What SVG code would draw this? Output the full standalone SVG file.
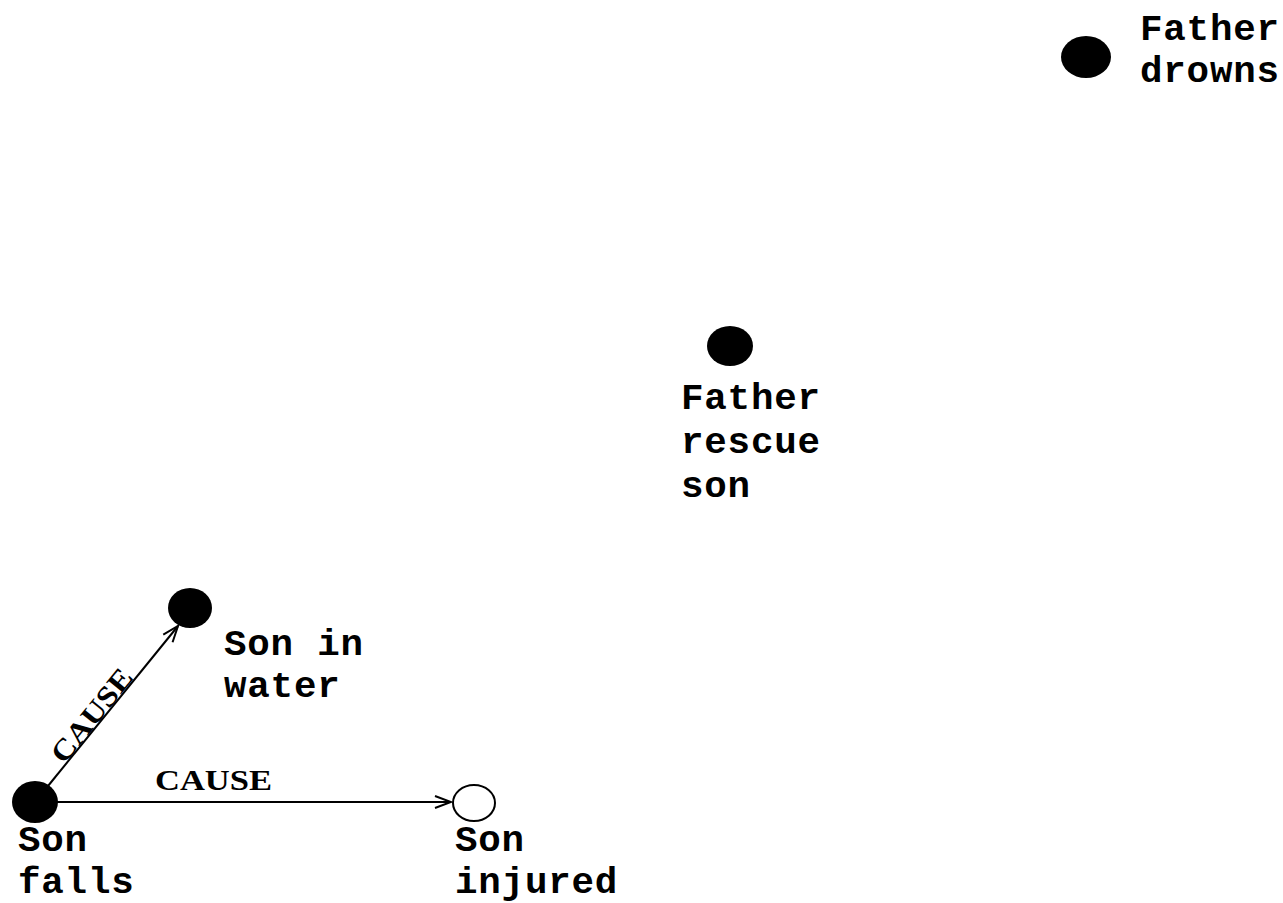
<svg xmlns="http://www.w3.org/2000/svg" width="1283" height="903" viewBox="0 0 1283 903">
<style>
.lbl{font-family:"Liberation Mono","Courier New",monospace;font-size:37.5px;font-weight:bold;letter-spacing:0.8px;fill:#000}
.rel{font-family:"Liberation Serif","Times New Roman",serif;font-size:29px;font-weight:bold;fill:#000}
.dot{fill:#000}
.open{fill:#fff;stroke:#000;stroke-width:2}
.edge{stroke:#000;stroke-width:2;fill:none}
</style>
<defs>
<marker id="arr" markerWidth="20" markerHeight="16" refX="18" refY="8" orient="auto" markerUnits="userSpaceOnUse">
<path d="M2,2 L18,8 L2,14" fill="none" stroke="#000" stroke-width="2"/>
</marker>
</defs>
<rect width="1283" height="903" fill="#fff"/>
<g id="connectors">
<line class="edge" x1="48" y1="786" x2="178" y2="626" marker-end="url(#arr)"/>
<line class="edge" x1="57" y1="802" x2="451" y2="802" marker-end="url(#arr)"/>
<text class="rel" x="155" y="790" textLength="117" lengthAdjust="spacingAndGlyphs">CAUSE</text>
<text class="rel" transform="translate(64,765) rotate(-51)" x="0" y="0" textLength="112" lengthAdjust="spacingAndGlyphs">CAUSE</text>
</g>
<g id="son-falls">
<ellipse class="dot" cx="35" cy="802" rx="23" ry="21"/>
<text class="lbl" x="18" y="851">Son</text>
<text class="lbl" x="18" y="893">falls</text>
</g>
<g id="son-in-water">
<ellipse class="dot" cx="190" cy="608" rx="22" ry="20"/>
<text class="lbl" x="224" y="655">Son in</text>
<text class="lbl" x="224" y="697">water</text>
</g>
<g id="son-injured">
<ellipse class="open" cx="474" cy="803" rx="21" ry="18"/>
<text class="lbl" x="455" y="851">Son</text>
<text class="lbl" x="455" y="893">injured</text>
</g>
<g id="father-rescue-son">
<ellipse class="dot" cx="730" cy="346" rx="23" ry="20"/>
<text class="lbl" x="681" y="409">Father</text>
<text class="lbl" x="681" y="453">rescue</text>
<text class="lbl" x="681" y="497">son</text>
</g>
<g id="father-drowns">
<ellipse class="dot" cx="1086" cy="57" rx="25" ry="21"/>
<text class="lbl" x="1140" y="40">Father</text>
<text class="lbl" x="1140" y="82">drowns</text>
</g>
</svg>
